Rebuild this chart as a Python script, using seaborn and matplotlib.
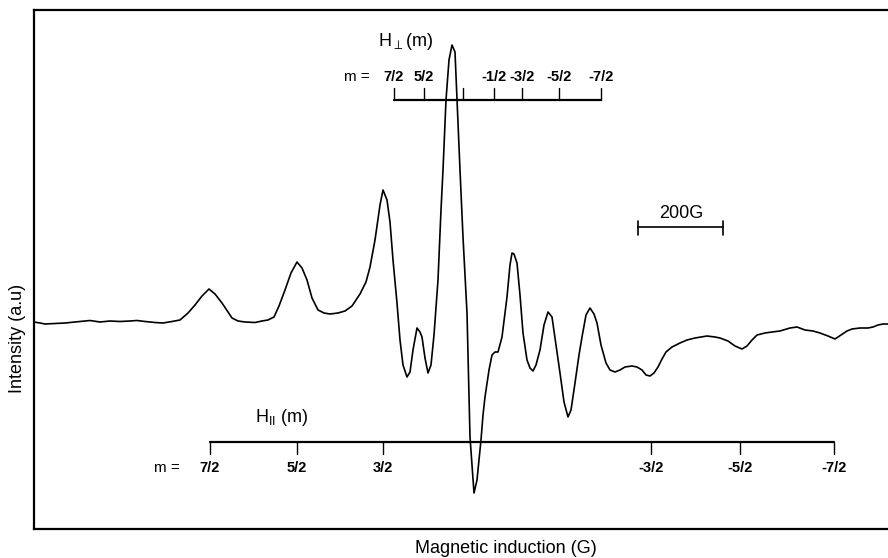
import numpy as np
import pandas as pd
import matplotlib
matplotlib.use("Agg")
import matplotlib.pyplot as plt
import seaborn as sns

# ---------------- data ----------------
# positions read along the field axis (reading units) and signal heights
x_read = [34, 40, 45, 55, 65, 75, 90, 100, 110, 120, 130, 137, 145, 155, 163, 172, 180,
          188, 195, 202, 209, 215, 222, 228, 232, 238, 245, 255, 262, 268, 274, 279, 285,
          291, 297, 302, 307, 312, 318, 324, 330, 338, 345, 352, 360, 366, 370, 375, 380,
          383, 387, 390, 393, 397, 400, 403, 407, 410, 413, 417, 420, 422, 425, 428, 431,
          434, 438, 441, 443, 446, 449, 452, 455, 457, 460, 463, 467, 470, 474, 477, 481,
          483, 485, 489, 492, 495, 498, 502, 507, 510, 512, 514, 517, 520, 523, 527, 530,
          533, 536, 540, 544, 548, 552, 556, 560, 564, 568, 571, 575, 579, 582, 586, 590,
          594, 597, 601, 606, 610, 615, 620, 625, 632, 637, 642, 646, 650, 654, 658, 662,
          666, 672, 680, 687, 695, 707, 715, 720, 728, 735, 742, 747, 752, 757, 765, 772,
          780, 790, 797, 805, 813, 820, 828, 835, 841, 847, 852, 860, 868, 873, 878, 883, 888]
y_read = [322, 323, 324, 323.5, 323, 322, 320.5, 322, 321, 321.5, 321, 320.5, 321.5, 322.5, 323, 321.5, 320,
          313, 305, 296, 289, 294, 303, 312, 318, 321, 322, 322.5, 321, 320, 317, 306, 290,
          273, 262, 268, 280, 298, 310, 313, 314, 313, 311, 306, 294, 282, 267, 240, 205,
          190, 200, 222, 260, 303, 340, 365, 377, 372, 350, 328, 332, 337, 358, 373, 365,
          335, 280, 210, 170, 100, 60, 45, 52, 100, 170, 237, 313, 437, 493, 480, 440,
          415, 397, 370, 355, 352, 352, 337, 297, 265, 253, 254, 263, 295, 333, 360, 368,
          371, 365, 350, 325, 312, 317, 345, 373, 402, 417, 410, 383, 355, 337, 315, 308,
          314, 323, 345, 363, 370, 372, 370, 367, 366, 367, 370, 375, 376, 373, 367, 359,
          352, 347, 343, 340, 338, 336, 337, 338, 341, 346, 349, 346, 340, 335, 333, 332,
          331, 328, 327, 330, 331, 333, 336, 339, 335, 331, 329, 328, 328, 327, 325, 324, 324]

# hyperfine marker positions (reading units) and labels
perp_pos = [394, 424, 463, 494, 522, 559, 601]
perp_labels = ["7/2", "5/2", "", "-1/2", "-3/2", "-5/2", "-7/2"]
par_pos = [210, 297, 383, 651, 740, 834]
par_labels = ["7/2", "5/2", "3/2", "-3/2", "-5/2", "-7/2"]

# reading-unit -> Gauss conversion (200 G scale bar spans 638..723)
X0, B0 = 34.0, 2500.0
G_PER_UNIT = 200.0 / (723 - 638)
BASE = 323.0

def to_field(v):
    return B0 + (np.asarray(v, dtype=float) - X0) * G_PER_UNIT

def to_int(v):
    return BASE - np.asarray(v, dtype=float)

df = pd.DataFrame({"field": to_field(x_read), "intensity": to_int(y_read)})

# ---------------- figure ----------------
sns.set_theme(style="white")
plt.rcParams["font.family"] = ["Liberation Sans", "DejaVu Sans"]
plt.rcParams["mathtext.fontset"] = "dejavusans"
plt.rcParams["text.color"] = "black"
plt.rcParams["axes.labelcolor"] = "black"

fig = plt.figure(figsize=(8.88, 5.58), dpi=100)
EXTRA = 0.02
ax = fig.add_axes([34 / 888, 1 - 529 / 558, 1 - 34 / 888 + EXTRA, (529 - 10) / 558])
ax_w_px = 888 * (1 - 34 / 888 + EXTRA)

sns.lineplot(data=df, x="field", y="intensity", ax=ax, color="black",
             linewidth=1.2, sort=False, estimator=None)

ax.set_xlim(to_field(34), to_field(34 + ax_w_px))
ax.set_ylim(to_int(529), to_int(10))
ax.set_xticks([])
ax.set_yticks([])
for s in ["left", "top", "bottom"]:
    ax.spines[s].set_color("black")
    ax.spines[s].set_linewidth(1.6)
ax.spines["right"].set_visible(False)

ax.set_xlabel("Magnetic induction (G)", fontsize=13, color="black")
ax.set_ylabel("Intensity (a.u)", fontsize=13, color="black")
ax.xaxis.set_label_coords((506 - 34) / ax_w_px, -0.022)
ax.yaxis.set_label_coords((26 - 34) / ax_w_px, (529 - 338) / 519)

LBL = dict(ha="center", va="center", fontsize=10.5, fontweight="bold", color="black")
MEQ = dict(ha="center", va="center", fontsize=11, color="black")

# ---- perpendicular bracket (top) ----
py_line = to_int(100)
py_tick = to_int(88)
ax.plot(to_field([perp_pos[0], perp_pos[-1]]), [py_line, py_line], color="black", lw=1.6)
for p, lab in zip(perp_pos, perp_labels):
    ax.plot(to_field([p, p]), [py_line, py_tick], color="black", lw=1.0)
    if lab:
        ax.text(to_field(p), to_int(77), lab, **LBL)
ax.text(to_field(357), to_int(77), "m =", **MEQ)
ax.text(to_field(378), to_int(42), r"H$_{\perp}$(m)", ha="left", va="center",
        fontsize=13, color="black")

# ---- parallel bracket (bottom) ----
ly_line = to_int(442)
ly_tick = to_int(454)
ax.plot(to_field([par_pos[0], par_pos[-1]]), [ly_line, ly_line], color="black", lw=1.6)
for p, lab in zip(par_pos, par_labels):
    ax.plot(to_field([p, p]), [ly_line, ly_tick], color="black", lw=1.0)
    ax.text(to_field(p), to_int(468), lab, **LBL)
ax.text(to_field(167), to_int(468), "m =", **MEQ)
ax.text(to_field(255), to_int(417), r"H$_{\mathregular{II}}$ (m)", ha="left", va="center",
        fontsize=13, color="black")

# ---- 200 G scale bar ----
sb_y = to_int(227)
ax.plot(to_field([638, 723]), [sb_y, sb_y], color="black", lw=1.2)
for p in [638, 723]:
    ax.plot(to_field([p, p]), [to_int(221), to_int(235)], color="black", lw=1.2)
ax.text(to_field(681), to_int(214), "200G", ha="center", va="center", fontsize=13,
        color="black")

fig.savefig("out.png", dpi=100)
